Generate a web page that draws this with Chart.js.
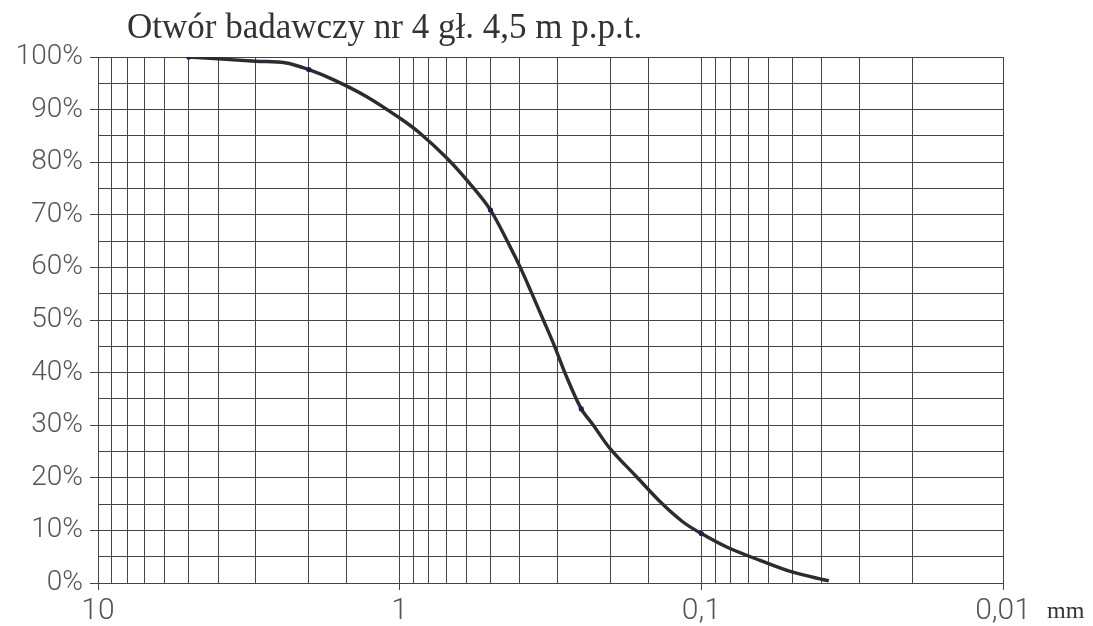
<!DOCTYPE html>
<html>
<head>
<meta charset="utf-8">
<script src="https://cdn.jsdelivr.net/npm/chart.js@4/dist/chart.umd.min.js"></script>
<style>
  html, body { margin: 0; padding: 0; background: #ffffff; }
  #wrap { position: relative; width: 1093px; height: 626px; }
</style>
</head>
<body>
<div id="wrap"><canvas id="chart" width="1093" height="626"></canvas></div>
<script>
// Grain size distribution curve (percent passing vs. particle diameter, mm)
const titleText = 'Otwór badawczy nr 4 gł. 4,5 m p.p.t.';
const unitText = 'mm';

// Smooth curve traced through the measured fractions
const curveDiameters = [5, 3, 2.4, 2, 1.66, 1.29, 1, 0.86, 0.698, 0.593, 0.5, 0.431, 0.399, 0.365, 0.334, 0.306, 0.283, 0.25, 0.228, 0.201, 0.164, 0.135, 0.115, 0.1, 0.0824, 0.0639, 0.0501, 0.0378];
const curvePassing  = [100, 99.2, 98.9, 97.6, 95.7, 92.5, 88.4, 85.6, 80.8, 76.3, 70.9, 64, 60.1, 55.1, 50, 44.9, 39.9, 33.1, 30, 25.6, 20.2, 15.1, 11.6, 9.4, 6.85, 4.3, 2.1, 0.4];

// Sieve results (marked points)
const sieveDiameters = [5, 2, 0.5, 0.25, 0.1];
const sievePassing   = [100, 97.6, 70.9, 33.1, 9.4];

// Axis labelling
const xMajorValues = [10, 1, 0.1, 0.01];
const xMajorLabels = ['10', '1', '0,1', '0,01'];
const yLabelValues = [0, 10, 20, 30, 40, 50, 60, 70, 80, 90, 100];
const yLabelTexts  = ['0%', '10%', '20%', '30%', '40%', '50%', '60%', '70%', '80%', '90%', '100%'];

const toPoints = (xs, ys) => xs.map((x, i) => ({ x: x, y: ys[i] }));

function majorIndex(v) {
  for (let i = 0; i < xMajorValues.length; i++) {
    if (Math.abs(Math.log10(v) - Math.log10(xMajorValues[i])) < 1e-6) return i;
  }
  return -1;
}
function yLabelIndex(v) {
  for (let i = 0; i < yLabelValues.length; i++) {
    if (Math.abs(v - yLabelValues[i]) < 1e-6) return i;
  }
  return -1;
}

const gridColor = '#454545';
const labelColor = '#555555';

const textPlugin = {
  id: 'textPlugin',
  afterDraw(chart) {
    const ctx = chart.ctx;
    const xs = chart.scales.x;
    ctx.save();
    ctx.fillStyle = '#333333';
    ctx.textBaseline = 'alphabetic';
    ctx.textAlign = 'left';
    ctx.font = '35px "Liberation Serif", "Times New Roman", serif';
    ctx.fillText(titleText, 127, 38);
    ctx.font = '24px "Liberation Serif", "Times New Roman", serif';
    ctx.fillText(unitText, xs.getPixelForValue(0.01) + 44, 618);
    ctx.restore();
  }
};

new Chart(document.getElementById('chart'), {
  type: 'scatter',
  data: {
    datasets: [
      {
        type: 'line',
        data: toPoints(curveDiameters, curvePassing),
        borderColor: '#2b2b33',
        borderWidth: 3.4,
        pointRadius: 0,
        tension: 0.35,
        fill: false,
        order: 2
      },
      {
        data: toPoints(sieveDiameters, sievePassing),
        backgroundColor: '#1e1e4e',
        borderColor: '#1e1e4e',
        pointRadius: 2.6,
        pointBorderWidth: 0,
        order: 1
      }
    ]
  },
  options: {
    responsive: false,
    devicePixelRatio: 1,
    animation: false,
    layout: { padding: { left: 0, top: 57, right: 90, bottom: 0 } },
    plugins: { legend: { display: false }, tooltip: { enabled: false }, title: { display: false } },
    scales: {
      x: {
        type: 'logarithmic',
        reverse: true,
        min: 0.01,
        max: 10,
        afterFit(s) { s.height = 43; },
        border: { display: true, color: gridColor, width: 1 },
        grid: {
          color: gridColor,
          lineWidth: 1,
          drawTicks: true,
          tickLength: 7,
          tickColor: (c) => (c.tick && majorIndex(c.tick.value) >= 0) ? gridColor : 'rgba(0,0,0,0)'
        },
        ticks: {
          autoSkip: false,
          maxRotation: 0,
          padding: 3,
          color: labelColor,
          font: { family: 'Roboto, "Open Sans", sans-serif', size: 30, weight: 300 },
          callback: (v) => { const i = majorIndex(v); return i >= 0 ? xMajorLabels[i] : ''; }
        }
      },
      y: {
        min: 0,
        max: 100,
        afterFit(s) { s.width = 98; },
        border: { display: true, color: gridColor, width: 1 },
        grid: {
          color: gridColor,
          lineWidth: 1,
          drawTicks: true,
          tickLength: 8,
          tickColor: (c) => (c.tick && yLabelIndex(c.tick.value) >= 0) ? gridColor : 'rgba(0,0,0,0)'
        },
        ticks: {
          stepSize: 5,
          autoSkip: false,
          padding: 7,
          color: labelColor,
          font: { family: 'Roboto, "Open Sans", sans-serif', size: 28, weight: 300 },
          callback: (v) => { const i = yLabelIndex(v); return i >= 0 ? yLabelTexts[i] : ''; }
        }
      }
    }
  },
  plugins: [textPlugin]
});
</script>
</body>
</html>
